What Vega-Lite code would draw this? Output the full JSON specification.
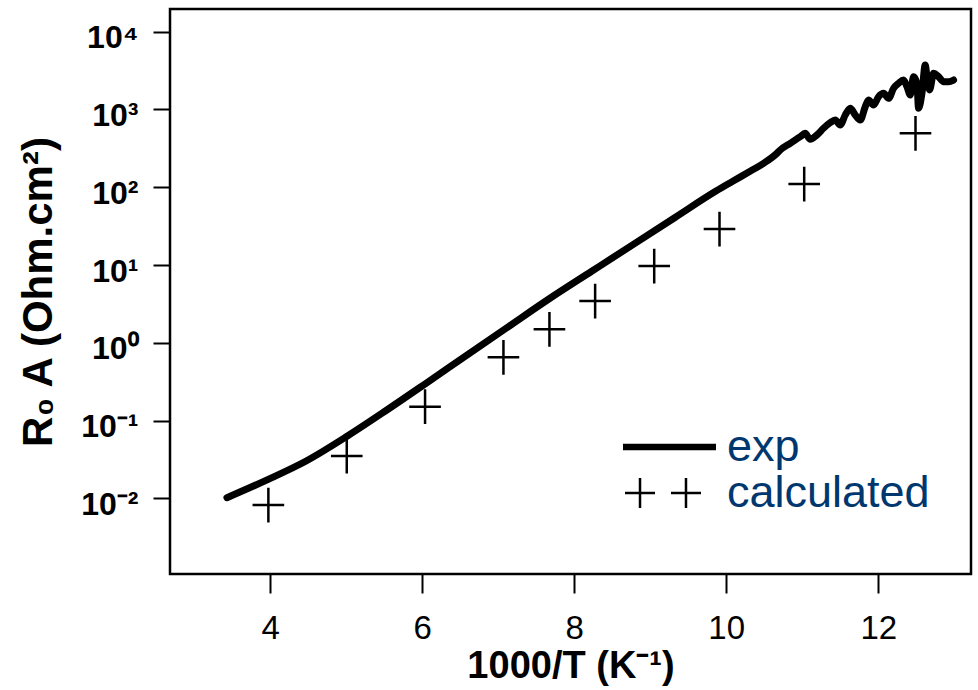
{
  "$schema": "https://vega.github.io/schema/vega-lite/v6.json",
  "width": 801,
  "height": 565,
  "autosize": {"type": "none"},
  "padding": {"left": 170, "top": 9, "right": 7, "bottom": 116},
  "background": "white",
  "config": {
    "view": {"stroke": "black", "strokeWidth": 2.5, "fill": "white"},
    "axis": {"grid": false, "domain": false, "tickColor": "black", "tickWidth": 2, "labelColor": "black", "titleColor": "black"}
  },
  "encoding": {
    "x": {
      "field": "invT", "type": "quantitative",
      "scale": {"domain": [2.684, 13.22], "nice": false, "zero": false},
      "axis": {
        "title": "1000/T (K⁻¹)", "values": [4, 6, 8, 10, 12], "tickSize": 19,
        "labelFontSize": 33, "labelFont": "Liberation Sans Narrow, Liberation Sans, sans-serif", "labelPadding": 19, "labelFlush": false,
        "titleFont": "Liberation Sans, sans-serif", "titleFontSize": 38, "titleFontWeight": "bold", "titlePadding": 2
      }
    },
    "y": {
      "field": "R", "type": "quantitative",
      "scale": {"type": "log", "domain": [0.001064, 19590], "nice": false, "zero": false},
      "axis": {
        "title": "R₀ A (Ohm.cm²)", "values": [0.01, 0.1, 1, 10, 100, 1000, 10000], "tickSize": 17,
        "labelFontSize": 32, "labelFontWeight": "bold", "labelFont": "Liberation Sans Narrow, Liberation Sans, sans-serif", "labelPadding": 15, "labelOffset": 6,
        "labelExpr": "'10' + ['⁻²','⁻¹','⁰','¹','²','³','⁴'][round(log(datum.value)/LN10)+2]",
        "titleFont": "Liberation Sans, sans-serif", "titleFontSize": 42, "titleFontWeight": "bold", "titlePadding": 20
      }
    }
  },
  "layer": [
    {
      "data": {"values": [
        {"invT": 3.433, "R": 0.01019, "series": "exp"},
        {"invT": 3.976, "R": 0.01754, "series": "exp"},
        {"invT": 4.475, "R": 0.0302, "series": "exp"},
        {"invT": 5.018, "R": 0.0633, "series": "exp"},
        {"invT": 5.517, "R": 0.1327, "series": "exp"},
        {"invT": 6.061, "R": 0.306, "series": "exp"},
        {"invT": 6.604, "R": 0.711, "series": "exp"},
        {"invT": 7.147, "R": 1.643, "series": "exp"},
        {"invT": 7.692, "R": 3.79, "series": "exp"},
        {"invT": 8.236, "R": 8.37, "series": "exp"},
        {"invT": 8.779, "R": 18.45, "series": "exp"},
        {"invT": 9.322, "R": 40.6, "series": "exp"},
        {"invT": 9.866, "R": 89.3, "series": "exp"},
        {"invT": 10.092, "R": 120.2, "series": "exp"},
        {"invT": 10.32, "R": 161.8, "series": "exp"},
        {"invT": 10.491, "R": 203.2, "series": "exp"},
        {"invT": 10.667, "R": 272.9, "series": "exp"},
        {"invT": 10.711, "R": 301.3, "series": "exp"},
        {"invT": 10.842, "R": 367.3, "series": "exp"},
        {"invT": 10.974, "R": 446.7, "series": "exp"},
        {"invT": 11.039, "R": 493.2, "series": "exp"},
        {"invT": 11.105, "R": 413.0, "series": "exp"},
        {"invT": 11.193, "R": 469.9, "series": "exp"},
        {"invT": 11.280, "R": 572.8, "series": "exp"},
        {"invT": 11.368, "R": 676.1, "series": "exp"},
        {"invT": 11.434, "R": 732.8, "series": "exp"},
        {"invT": 11.500, "R": 631.0, "series": "exp"},
        {"invT": 11.566, "R": 849.2, "series": "exp"},
        {"invT": 11.632, "R": 1035, "series": "exp"},
        {"invT": 11.697, "R": 849.2, "series": "exp"},
        {"invT": 11.763, "R": 732.8, "series": "exp"},
        {"invT": 11.829, "R": 1084, "series": "exp"},
        {"invT": 11.872, "R": 1321, "series": "exp"},
        {"invT": 11.938, "R": 1140, "series": "exp"},
        {"invT": 12.004, "R": 1459, "series": "exp"},
        {"invT": 12.070, "R": 1614, "series": "exp"},
        {"invT": 12.136, "R": 1390, "series": "exp"},
        {"invT": 12.201, "R": 1871, "series": "exp"},
        {"invT": 12.267, "R": 2168, "series": "exp"},
        {"invT": 12.333, "R": 2388, "series": "exp"},
        {"invT": 12.378, "R": 1963, "series": "exp"},
        {"invT": 12.421, "R": 1535, "series": "exp"},
        {"invT": 12.464, "R": 2636, "series": "exp"},
        {"invT": 12.509, "R": 2168, "series": "exp"},
        {"invT": 12.530, "R": 1035, "series": "exp"},
        {"invT": 12.575, "R": 1614, "series": "exp"},
        {"invT": 12.618, "R": 3741, "series": "exp"},
        {"invT": 12.641, "R": 2636, "series": "exp"},
        {"invT": 12.675, "R": 1782, "series": "exp"},
        {"invT": 12.728, "R": 2917, "series": "exp"},
        {"invT": 12.793, "R": 2636, "series": "exp"},
        {"invT": 12.859, "R": 2275, "series": "exp"},
        {"invT": 12.925, "R": 2275, "series": "exp"},
        {"invT": 12.991, "R": 2393, "series": "exp"}
      ]},
      "mark": {"type": "line", "strokeWidth": 7, "strokeCap": "round", "strokeJoin": "round", "interpolate": "monotone"},
      "encoding": {
        "color": {
          "field": "series", "type": "nominal",
          "scale": {"domain": ["exp"], "range": ["black"]},
          "legend": {
            "title": null, "orient": "none", "legendX": 449.5, "legendY": 388, "padding": 0,
            "symbolType": "stroke", "symbolSize": 8649, "symbolStrokeWidth": 6.5,
            "labelFontSize": 45, "labelFont": "Liberation Sans, sans-serif", "labelColor": "#00376e", "labelOffset": 7.5, "labelLimit": 0
          }
        }
      }
    },
    {
      "data": {"values": [
        {"invT": 3.978, "R": 0.0082, "series": "calculated"},
        {"invT": 5.009, "R": 0.035, "series": "calculated"},
        {"invT": 6.039, "R": 0.1507, "series": "calculated"},
        {"invT": 7.070, "R": 0.650, "series": "calculated"},
        {"invT": 7.675, "R": 1.489, "series": "calculated"},
        {"invT": 8.276, "R": 3.44, "series": "calculated"},
        {"invT": 9.053, "R": 9.70, "series": "calculated"},
        {"invT": 9.912, "R": 29.0, "series": "calculated"},
        {"invT": 11.026, "R": 110, "series": "calculated"},
        {"invT": 12.49, "R": 493, "series": "calculated"}
      ]},
      "mark": {"type": "point", "shape": "M-1,0H1M0,-1.1V1.1", "size": 1000, "filled": false, "strokeWidth": 2.5, "opacity": 1},
      "encoding": {
        "color": {
          "field": "series", "type": "nominal",
          "scale": {"domain": ["calculated"], "range": ["black"]},
          "legend": {
            "title": null, "orient": "none", "legendX": 453.5, "legendY": 444.5, "padding": 0,
            "symbolType": "M-1,0H-0.21M-0.605,-0.395V0.395M0.21,0H1M0.605,-0.395V0.395",
            "symbolSize": 5776, "symbolStrokeWidth": 2.5, "symbolFillColor": "transparent",
            "labelFontSize": 45, "labelFont": "Liberation Sans, sans-serif", "labelColor": "#00376e", "labelOffset": 24.5, "labelLimit": 0
          }
        }
      }
    }
  ],
  "resolve": {"scale": {"color": "independent"}, "legend": {"color": "independent"}}
}
